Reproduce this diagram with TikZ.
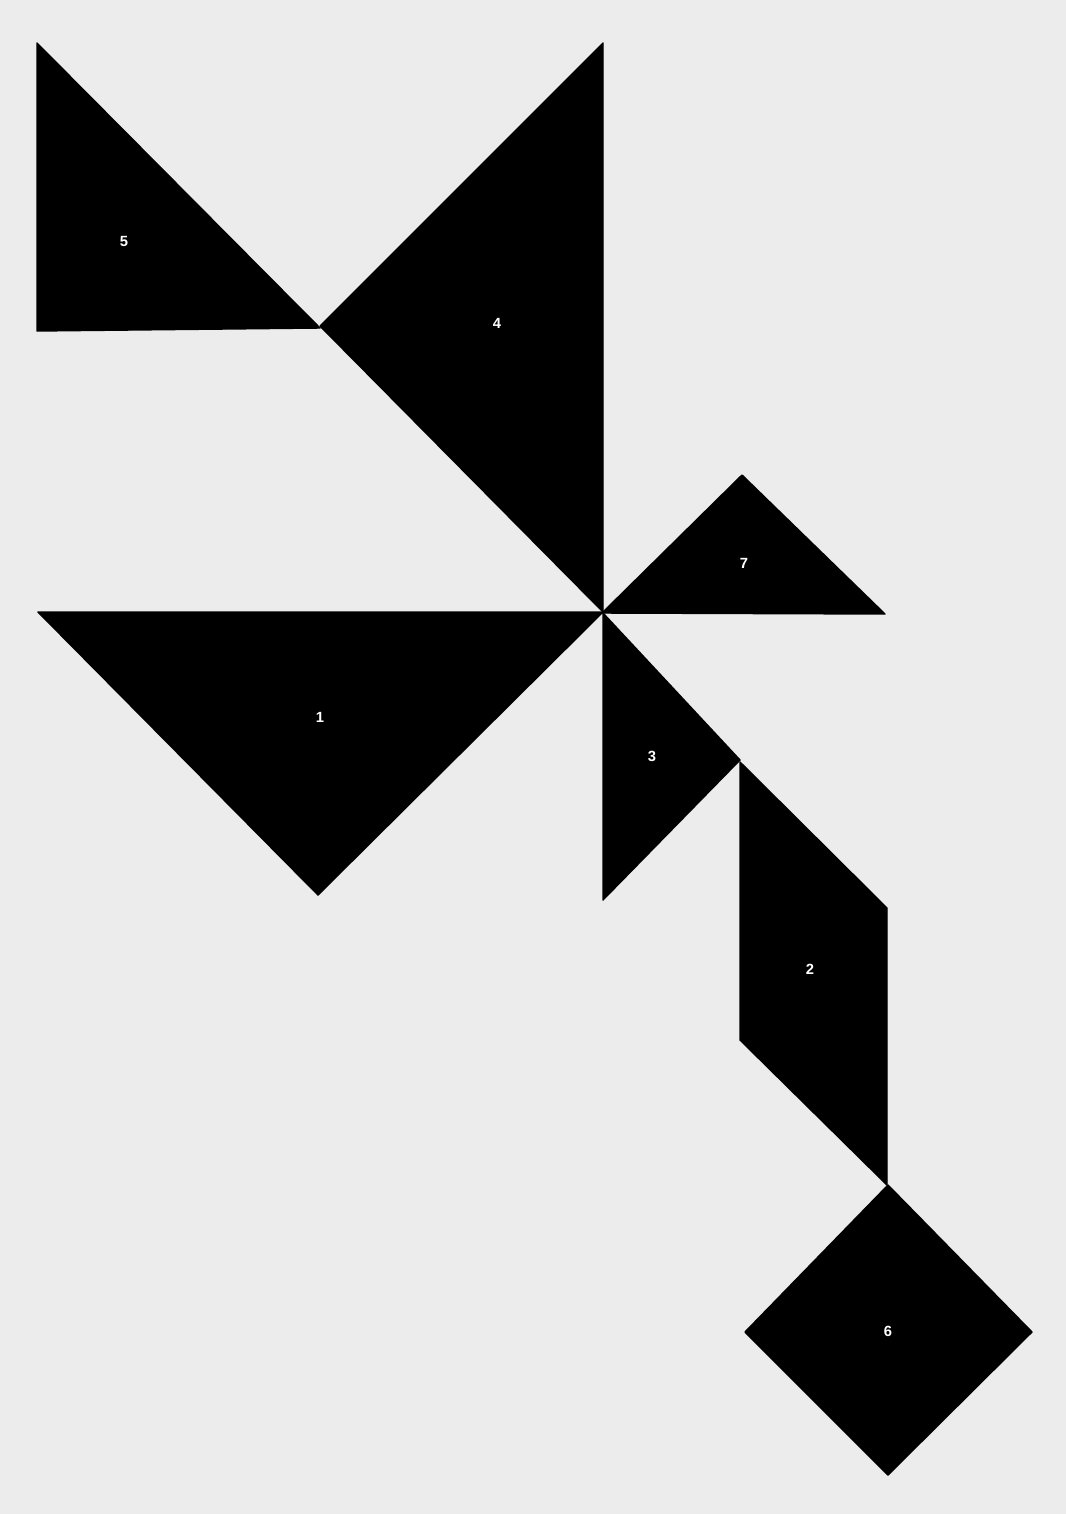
\documentclass[tikz,border=0pt]{standalone}
\usepackage{xcolor}
\usepackage{fontspec}
\setsansfont{Liberation Sans}
\usetikzlibrary{calc}
\definecolor{paper-grey}{RGB}{236, 236, 236}
\tikzset{piece/.style={fill=black, draw=black, line join=round},
  num/.style={text=white, font=\sffamily\bfseries\fontsize{4.2}{5}\selectfont, inner sep=0pt}}

\begin{document}
\begin{tikzpicture}[x=0.01cm, y=-0.01cm]
\fill[paper-grey] (0,0) rectangle (1066,1514);
\filldraw[piece] (37,43) -- (320,328) -- (37,331) -- cycle;
\filldraw[piece] (603,43) -- (603,612) -- (320,326) -- cycle;
\filldraw[piece] (742,475) -- (885,614) -- (602,613) -- cycle;
\filldraw[piece] (38,612) -- (603,612) -- (318,895) -- cycle;
\filldraw[piece] (603,613) -- (740,760) -- (603,900) -- cycle;
\filldraw[piece] (740,762) -- (887,908) -- (887,1185) -- (740,1040) -- cycle;
\filldraw[piece] (888,1185) -- (1032,1332) -- (888,1475) -- (745,1332) -- cycle;
\node[num] (n5) at (124,241) {5};
\node[num] (n4) at (497,323) {4};
\node[num] (n7) at (744,563) {7};
\node[num] (n1) at (320,717) {1};
\node[num] (n3) at (652,756) {3};
\node[num] (n2) at (810,969) {2};
\node[num] (n6) at (888,1331) {6};
\end{tikzpicture}
\end{document}
